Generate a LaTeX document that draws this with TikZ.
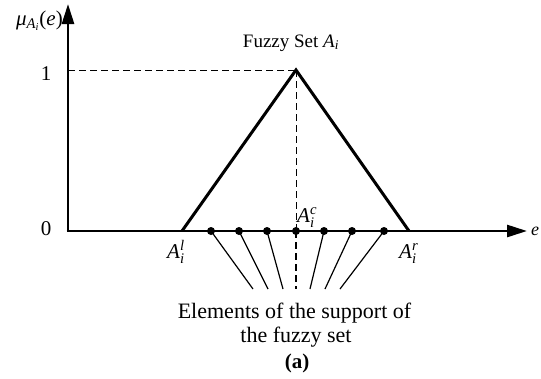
\documentclass[tikz,border=0pt]{standalone}
\usepackage{amsmath}
\usepackage{fontspec}
\setmainfont{Liberation Serif}
\usetikzlibrary{arrows.meta}
\newcommand\iA{\textit{A}}
\newcommand\ii{\textit{i}}
\begin{document}
\begin{tikzpicture}[x=1pt,y=-1pt,
  axis/.style={line width=2.6pt,-{Triangle[length=20pt,width=12pt]}},
  tri/.style={line width=3pt},
  guide/.style={line width=0.9pt,dash pattern=on 7pt off 4pt},
  fan/.style={line width=1.2pt},
  pt/.style={circle,fill=black,inner sep=0pt,minimum size=8pt},
  lbl/.style={font=\fontsize{21}{22}\selectfont,inner sep=0pt}]
\useasboundingbox (0,0) rectangle (541,378);
\coordinate (O) at (68,231);
\coordinate (ytop) at (68,4);
\coordinate (xend) at (527,231);
\coordinate (one) at (68,70);
\coordinate (peak) at (296,70);
\coordinate (L) at (182,231);
\coordinate (R) at (409,231);
\coordinate (C) at (296,231);
\draw[axis] (O) -- (ytop);
\draw[axis] ([xshift=-1.3pt]O) -- (xend);
\draw[guide] (one) -- (peak);
\draw[guide] (peak) -- (C);
\draw[tri] (L) -- (peak) -- (R);
\node[lbl,anchor=base east] (ylab) at (63,25) {\textit{μ}$_{\iA_{\ii}}$(\textit{e})};
\node[lbl,anchor=base] (l1) at (46,80) {1};
\node[lbl,anchor=base] (l0) at (46,235) {0};
\node[lbl,anchor=base,font=\fontsize{18}{20}\selectfont] (xlab) at (535,235) {\textit{e}};
\node[lbl,anchor=base,font=\fontsize{19}{22}\selectfont] (title) at (291,47) {Fuzzy Set \iA$_{\ii}$};
\node[lbl,anchor=base west] (Ac) at (297,222) {\iA$_{\ii}^{\textit{c}}$};
\node[lbl,anchor=base west] (Al) at (167,258) {\iA$_{\ii}^{\textit{l}}$};
\node[lbl,anchor=base west] (Ar) at (399,258) {\iA$_{\ii}^{\textit{r}}$};
\foreach \i/\x/\b in {1/211/253,2/239/268,3/267/283,5/324/310,6/352/325,7/384/340}{
  \node[pt] (d\i) at (\x,231) {};
  \coordinate (e\i) at (\b,289);
  \draw[fan] (d\i.center) -- (e\i);
}
\node[pt] (d4) at (296,231) {};
\coordinate (e4) at (296,289);
\draw[guide,line width=1.2pt] (d4.center) -- (e4);
\node[lbl,anchor=base,font=\fontsize{22}{24}\selectfont] (desc1) at (294.5,318) {Elements of the support of};
\node[lbl,anchor=base,font=\fontsize{22}{24}\selectfont] (desc2) at (296,342) {the fuzzy set};
\node[lbl,anchor=base,font=\fontsize{21}{22}\selectfont\bfseries] (cap) at (297,368) {(a)};
\end{tikzpicture}
\end{document}
